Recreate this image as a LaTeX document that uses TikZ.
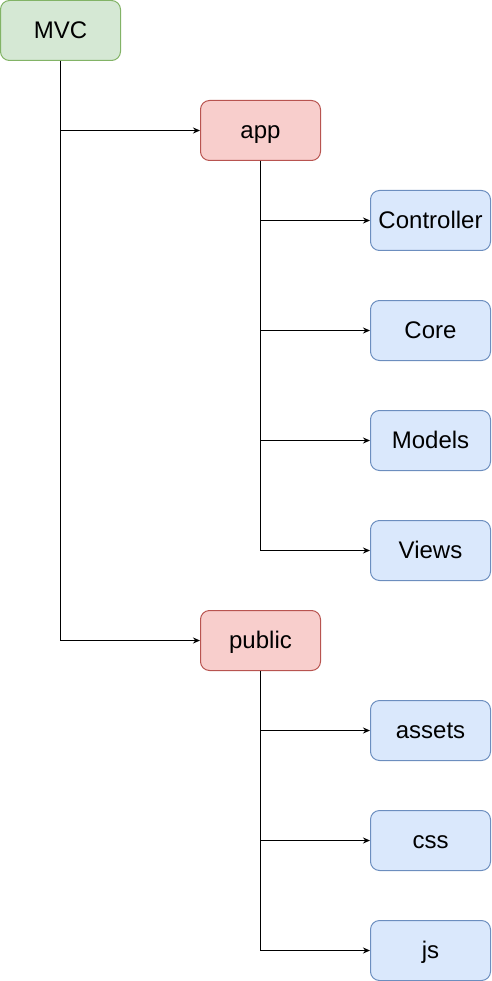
\documentclass[tikz,border=0pt]{standalone}
\usepackage{fontspec}
\setmainfont{Liberation Sans}
\usetikzlibrary{arrows.meta,positioning}
\definecolor{rootfill}{HTML}{D5E8D4}
\definecolor{rootdraw}{HTML}{82B366}
\definecolor{dirfill}{HTML}{F8CECC}
\definecolor{dirdraw}{HTML}{B85450}
\definecolor{subfill}{HTML}{DAE8FC}
\definecolor{subdraw}{HTML}{6C8EBF}
\tikzset{
      treebox/.style={
        rounded corners=9pt,
        line width=1pt,
        minimum width=120pt,
        minimum height=60pt,
        inner sep=0pt,
        text height=17pt,
        text depth=1pt,
        font=\fontsize{24}{28}\selectfont
      },
      rootbox/.style={treebox, draw=rootdraw, fill=rootfill},
      dirbox/.style={treebox, draw=dirdraw, fill=dirfill},
      subbox/.style={treebox, draw=subdraw, fill=subfill},
      branch/.style={line width=1pt, -{Stealth[length=7pt,width=6pt]}}
    }

\begin{document}
\begin{tikzpicture}[x=1pt,y=-1pt]
    \useasboundingbox (0,0) rectangle (491,981);
    \node[rootbox] (mvc) at (60.5,30.5) {MVC};
    \node[dirbox] (app) at (260.5,130.5) {app};
    \node[subbox] (controller) at (430.5,220.5) {Controller};
    \node[subbox] (core) at (430.5,330.5) {Core};
    \node[subbox] (models) at (430.5,440.5) {Models};
    \node[subbox] (views) at (430.5,550.5) {Views};
    \node[dirbox] (public) at (260.5,640.5) {public};
    \node[subbox] (assets) at (430.5,730.5) {assets};
    \node[subbox] (css) at (430.5,840.5) {css};
    \node[subbox] (js) at (430.5,950.5) {js};
    \draw[branch] (mvc.south) |- (app.west);
    \draw[branch] (mvc.south) |- (public.west);
    \foreach \sub in {controller,core,models,views}
      \draw[branch] (app.south) |- (\sub.west);
    \foreach \sub in {assets,css,js}
      \draw[branch] (public.south) |- (\sub.west);
    \end{tikzpicture}
\end{document}
